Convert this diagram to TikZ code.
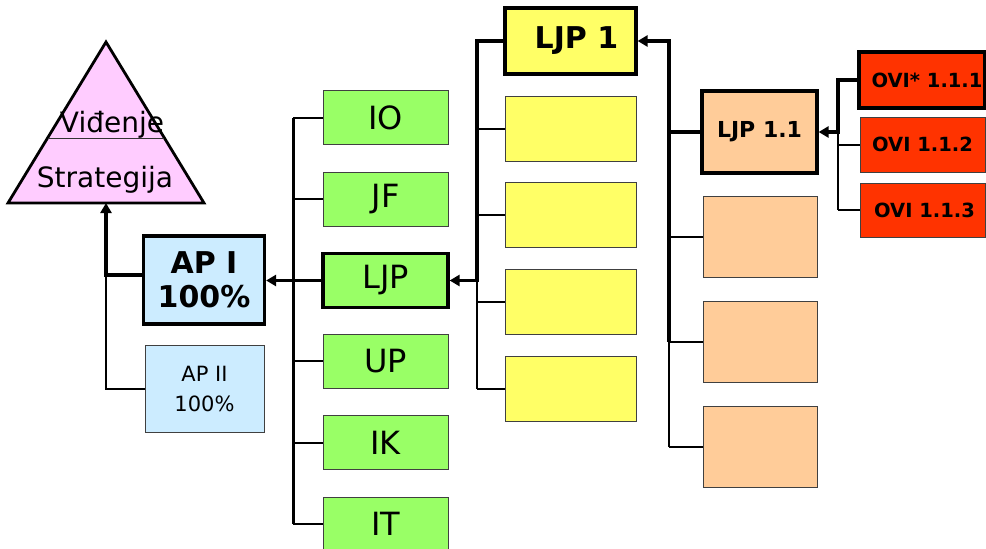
\documentclass[tikz,border=0pt]{standalone}
\usepackage{fontspec}
\setmainfont{DejaVu Sans}
\usetikzlibrary{arrows.meta,calc}

\definecolor{pinkfill}{HTML}{FFCCFF}
\definecolor{bluefill}{HTML}{CCECFF}
\definecolor{greenfill}{HTML}{99FF66}
\definecolor{yellowfill}{HTML}{FFFF66}
\definecolor{peachfill}{HTML}{FFCC99}
\definecolor{redfill}{HTML}{FF3300}

\begin{document}
\begin{tikzpicture}[x=1pt,y=-1pt,
  box/.style={draw=black!75, line width=1pt, inner sep=0pt, anchor=center, align=center},
  hot/.style={draw=black, line width=3.2pt},
  link/.style={line width=2pt},
  main/.style={line width=3.6pt},
  spine/.style={line width=3pt},
  tip/.style={-{Triangle[length=10pt,width=11pt]}},
  glabel/.style={font=\fontsize{32}{36}\selectfont},
  ovilabel/.style={font=\fontsize{19.5}{22}\selectfont\bfseries}
]
\useasboundingbox (0,0) rectangle (986,549);

% pyramid: vision over strategy
\draw[fill=pinkfill, line width=2.8pt, line join=miter] (106,42) -- (204,203) -- (8,203) -- cycle;
\draw[line width=1pt, black!80] (47.6,138) -- (164.4,138);
\node[anchor=base, font=\fontsize{28}{32}\selectfont, inner sep=0pt] (vid) at (112,132) {Viđenje};
\node[anchor=base, font=\fontsize{28}{32}\selectfont, inner sep=0pt] (strat) at (105,187) {Strategija};
\coordinate (tribase) at (106,203);
\coordinate (apjoin) at (106,275);

% action plans
\node[box, hot, fill=bluefill, minimum width=121, minimum height=88,
      font=\fontsize{30}{34}\selectfont\bfseries] (api) at (204,280) {AP I\\100\%};
\node[box, fill=bluefill, minimum width=119, minimum height=87,
      font=\fontsize{21}{30}\selectfont] (apii) at (204.5,388.5) {AP II\\100\%};

% green column
\node[box, fill=greenfill, minimum width=125, minimum height=54, glabel] (io) at (385.5,117.5) {IO};
\node[box, fill=greenfill, minimum width=125, minimum height=54, glabel] (jf) at (385.5,199) {JF};
\node[box, hot, fill=greenfill, minimum width=125, minimum height=54, glabel] (ljp) at (385.5,280.5) {LJP};
\node[box, fill=greenfill, minimum width=125, minimum height=54, glabel] (up) at (385.5,361) {UP};
\node[box, fill=greenfill, minimum width=125, minimum height=54, glabel] (ik) at (385.5,442.5) {IK};
\node[box, fill=greenfill, minimum width=125, minimum height=54, glabel] (it) at (385.5,524) {IT};

% yellow column
\node[box, hot, fill=yellowfill, minimum width=131, minimum height=66,
      font=\fontsize{30}{34}\selectfont\bfseries] (ljp1) at (570.5,41) {\hspace*{12pt}LJP 1};
\node[box, fill=yellowfill, minimum width=131, minimum height=65] (y1) at (570.5,128.5) {};
\node[box, fill=yellowfill, minimum width=131, minimum height=65] (y2) at (570.5,215) {};
\node[box, fill=yellowfill, minimum width=131, minimum height=65] (y3) at (570.5,301.5) {};
\node[box, fill=yellowfill, minimum width=131, minimum height=65] (y4) at (570.5,388.5) {};

% peach column
\node[box, hot, fill=peachfill, minimum width=115, minimum height=82,
      font=\fontsize{22}{26}\selectfont\bfseries] (ljp11) at (759.5,132) {LJP 1.1};
\node[box, fill=peachfill, minimum width=114, minimum height=81] (p1) at (760,236.5) {};
\node[box, fill=peachfill, minimum width=114, minimum height=81] (p2) at (760,341.5) {};
\node[box, fill=peachfill, minimum width=114, minimum height=81] (p3) at (760,446.5) {};

% indicator column
\node[box, hot, fill=redfill, minimum width=126, minimum height=56, ovilabel] (ovi1) at (922,80) {\hspace*{10pt}OVI* 1.1.1};
\node[box, fill=redfill, minimum width=125, minimum height=55, ovilabel] (ovi2) at (922.5,144.5) {OVI 1.1.2};
\node[box, fill=redfill, minimum width=125, minimum height=54, ovilabel] (ovi3) at (922.5,210) {\hspace*{4pt}OVI 1.1.3};

% spine positions
\coordinate (gsx) at (293,0);
\coordinate (ysx) at (477,0);
\coordinate (psx) at (669,0);
\coordinate (osx) at (838,0);

% AP links to the pyramid
\draw[link] (apii.west) -| (apjoin);
\draw[main, tip] (apjoin -| api.west) -| (tribase);

% green column links
\draw[spine] (io.west -| gsx) -- (it.west -| gsx);
\foreach \n in {io,jf,up,ik,it} \draw[link] (\n.west) -- (\n.west -| gsx);
\draw[main, tip] (ljp.west) -- (ljp.west -| api.east);

% yellow column links
\draw[link] (ljp.east -| ysx) -- (y4.west -| ysx);
\foreach \n in {y1,y2,y3,y4} \draw[link] (\n.west) -- (\n.west -| ysx);
\draw[main, tip, line join=miter] (ljp1.west) -| (ljp.east -| ysx) -- (ljp.east);

% peach column links
\draw[link] (p2.west -| psx) -- (p3.west -| psx);
\foreach \n in {p1,p2,p3} \draw[link] (\n.west) -- (\n.west -| psx);
\draw[main] (ljp11.west -| psx) -- (p2.west -| psx);
\draw[main, tip, line join=miter] (ljp11.west) -| (ljp1.east -| psx) -- (ljp1.east);

% indicator links
\draw[link] (ljp11.east -| osx) -- (ovi3.west -| osx);
\foreach \n in {ovi2,ovi3} \draw[link] (\n.west) -- (\n.west -| osx);
\draw[main, tip, line join=miter] (ovi1.west) -| (ljp11.east -| osx) -- (ljp11.east);
\end{tikzpicture}
\end{document}
